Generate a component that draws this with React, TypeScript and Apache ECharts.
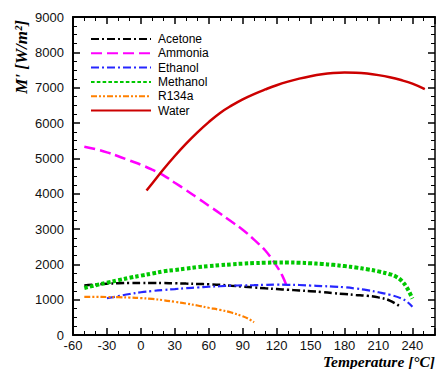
import React, { useEffect, useRef } from "react";
import * as echarts from "echarts";

const seriesNames = ["Acetone", "Ammonia", "Ethanol", "Methanol", "R134a", "Water"];

const acetoneT = [-50, -40, -30, -20, -10, 0, 10, 20, 30, 40, 50, 60, 70, 80, 90, 100, 110, 120, 130, 140, 150, 160, 170, 180, 190, 200, 210, 220, 229];
const acetoneM = [1400, 1430, 1450, 1465, 1475, 1475, 1475, 1470, 1465, 1455, 1445, 1435, 1420, 1395, 1370, 1345, 1320, 1300, 1280, 1260, 1240, 1215, 1185, 1160, 1135, 1110, 1065, 975, 810];

const ammoniaT = [-50, -40, -30, -20, -10, 0, 10, 20, 30, 40, 50, 60, 70, 80, 90, 100, 110, 120, 125, 130];
const ammoniaM = [5330, 5260, 5170, 5060, 4940, 4820, 4680, 4520, 4310, 4100, 3880, 3660, 3440, 3210, 2980, 2700, 2390, 1950, 1680, 1300];

const ethanolT = [-30, -20, -10, 0, 10, 20, 30, 40, 50, 60, 70, 80, 90, 100, 110, 120, 130, 140, 150, 160, 170, 180, 190, 200, 210, 220, 230, 235, 240];
const ethanolM = [1040, 1100, 1160, 1210, 1245, 1275, 1300, 1325, 1345, 1365, 1380, 1395, 1405, 1410, 1420, 1425, 1420, 1415, 1400, 1385, 1370, 1350, 1315, 1270, 1210, 1140, 1040, 950, 800];

const methanolT = [-50, -40, -30, -20, -10, 0, 10, 20, 30, 40, 50, 60, 70, 80, 90, 100, 110, 120, 130, 140, 150, 160, 170, 180, 190, 200, 210, 220, 225, 230, 235, 240];
const methanolM = [1330, 1410, 1480, 1550, 1620, 1680, 1740, 1800, 1840, 1880, 1920, 1950, 1975, 2000, 2020, 2035, 2045, 2050, 2050, 2045, 2030, 2010, 1985, 1950, 1910, 1860, 1800, 1720, 1660, 1550, 1350, 1030];

const r134aT = [-50, -40, -30, -20, -10, 0, 10, 20, 30, 40, 50, 60, 70, 80, 90, 95, 100];
const r134aM = [1080, 1080, 1075, 1070, 1060, 1045, 1020, 985, 940, 890, 835, 770, 710, 635, 530, 460, 360];

const waterT = [5, 10, 20, 30, 40, 50, 60, 70, 80, 90, 100, 110, 120, 130, 140, 150, 160, 170, 180, 190, 200, 210, 220, 230, 240, 251];
const waterM = [4090, 4290, 4690, 5065, 5415, 5735, 6025, 6285, 6490, 6670, 6820, 6950, 7070, 7170, 7255, 7325, 7380, 7415, 7430, 7425, 7400, 7355, 7295, 7215, 7115, 6960];

const xTicks = { min: -60, max: 260, interval: 30 };
const yTicks = { min: 0, max: 9000, interval: 1000 };

const zip = (t: number[], m: number[]) => t.map((v, i) => [v, m[i]]);

export default function App() {
  const ref = useRef<HTMLDivElement>(null);
  useEffect(() => {
    if (!ref.current) return;
    const chart = echarts.init(ref.current, null, { renderer: "svg" });
    const sans = "'Liberation Sans', Arial, sans-serif";
    const serif = "'Liberation Serif', 'Times New Roman', serif";
    const axisLine = (w: number) => ({ show: true, onZero: false, lineStyle: { color: "#000", width: w } });
    const tick = { show: true, inside: true, length: 7, lineStyle: { color: "#000", width: 1.5 } };
    const minor = (n: number) => ({ show: true, splitNumber: n, length: 4, lineStyle: { color: "#000", width: 1 } });
    const mk = (name: string, data: number[][], color: string, width: number, type: any, z = 2) => ({
      name,
      type: "line",
      data,
      showSymbol: false,
      symbol: "none",
      smooth: 0.4,
      z,
      lineStyle: { color, width, type, cap: "butt" },
      itemStyle: { color },
    });
    chart.setOption({
      animation: false,
      backgroundColor: "#fff",
      grid: { left: 73, right: 1, top: 17, bottom: 34, containLabel: false },
      legend: {
        data: seriesNames,
        orient: "vertical",
        left: 85,
        top: 28,
        itemWidth: 60,
        itemHeight: 12,
        itemGap: 2.3,
        itemStyle: { opacity: 0 },
        textStyle: { fontFamily: sans, fontSize: 12, color: "#000", padding: [0, 0, 0, 2] },
        selectedMode: false,
      },
      xAxis: [
        {
          type: "value",
          ...xTicks,
          position: "bottom",
          axisLine: axisLine(2),
          axisTick: tick,
          splitLine: { show: false },
          minorTick: minor(3),
          axisLabel: { showMaxLabel: false, margin: 4, fontFamily: sans, fontSize: 13, color: "#111", formatter: (v: number) => String(v) },
        },
        {
          type: "value",
          ...xTicks,
          position: "top",
          axisLine: axisLine(2),
          axisTick: tick,
          splitLine: { show: false },
          minorTick: minor(3),
          axisLabel: { show: false },
        },
      ],
      yAxis: [
        {
          type: "value",
          ...yTicks,
          position: "left",
          axisLine: axisLine(2),
          axisTick: tick,
          splitLine: { show: false },
          minorTick: minor(4),
          axisLabel: { margin: 9, fontFamily: sans, fontSize: 13, color: "#111", formatter: (v: number) => String(v) },
        },
        {
          type: "value",
          ...yTicks,
          position: "right",
          axisLine: axisLine(1.5),
          axisTick: tick,
          splitLine: { show: false },
          minorTick: minor(4),
          axisLabel: { show: false },
        },
      ],
      series: [
        mk("Acetone", zip(acetoneT, acetoneM), "#000000", 2.5, [8, 3, 2, 3]),
        mk("Ammonia", zip(ammoniaT, ammoniaM), "#ff00ff", 2.5, [11, 5]),
        mk("Ethanol", zip(ethanolT, ethanolM), "#2626ff", 2.2, [8, 3, 2, 3]),
        mk("Methanol", zip(methanolT, methanolM), "#00c800", 4, [3.6, 2.2]),
        mk("R134a", zip(r134aT, r134aM), "#ff8000", 2.2, [6, 2, 2, 2, 2, 2]),
        mk("Water", zip(waterT, waterM), "#cc0000", 2.5, "solid", 3),
      ],
      graphic: [
        {
          type: "text",
          x: 435,
          y: 361,
          style: {
            text: "Temperature [°C]",
            font: `italic bold 15.5px ${serif}`,
            fill: "#000",
            align: "right",
            verticalAlign: "middle",
          },
        },
        {
          type: "text",
          x: 21,
          y: 57,
          rotation: Math.PI / 2,
          style: {
            text: "M' [W/m²]",
            font: `italic bold 17px ${serif}`,
            fill: "#000",
            align: "center",
            verticalAlign: "middle",
          },
        },
      ],
    });
    return () => chart.dispose();
  }, []);
  return (
    <div
      ref={ref}
      style={{ position: "fixed", left: 0, top: 0, width: 436, height: 369, background: "#fff" }}
    />
  );
}
